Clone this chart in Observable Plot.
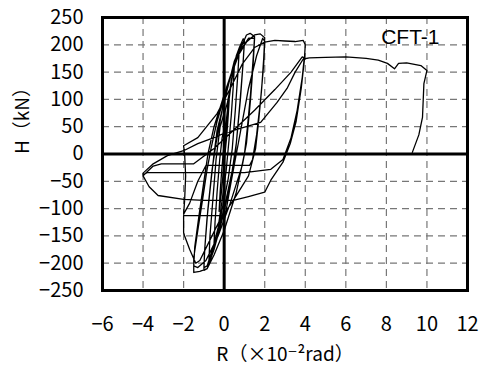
<!DOCTYPE html>
<html>
<head>
<meta charset="utf-8">
<script src="https://cdn.jsdelivr.net/npm/d3@7"></script>
<script src="https://cdn.jsdelivr.net/npm/@observablehq/plot@0.6"></script>
<style>
  html, body { margin: 0; padding: 0; background: #fff; }
  #chart svg { display: block; }
</style>
</head>
<body>
<div id="chart"></div>
<script>
// Tick values
const xTicks = [-6, -4, -2, 0, 2, 4, 6, 8, 10, 12];
const yTicks = [-250, -200, -150, -100, -50, 0, 50, 100, 150, 200, 250];
const xGrid = [-4, -2, 2, 4, 6, 8, 10];
const yGrid = [-200, -150, -100, -50, 50, 100, 150, 200];

// Hysteresis path: [R (x10^-2 rad), H (kN)]
const cycle025 = [[0,0],[0.08,35],[0.16,70],[0.25,100],[0.2,70],[0.12,30],[0.04,0],[-0.06,-40],[-0.15,-75],[-0.25,-105],[-0.2,-70],[-0.12,-30],[-0.05,0],[0.05,40]];
const cycle05 = [[0.2,95],[0.35,135],[0.5,160],[0.45,125],[0.35,70],[0.2,10],[0.1,-30],[-0.1,-85],[-0.3,-135],[-0.5,-165],[-0.45,-125],[-0.35,-70],[-0.22,-10],[-0.1,30]];
const cycle075 = [[0.1,60],[0.35,130],[0.6,180],[0.75,195],[0.68,150],[0.55,80],[0.4,10],[0.2,-45],[-0.2,-120],[-0.55,-175],[-0.75,-195],[-0.7,-150],[-0.55,-80],[-0.4,-10],[-0.2,50]];
const cycle10 = [[0.15,92],[0.5,160],[0.75,195],[0.94,211],[1.0,205],[0.92,160],[0.8,100],[0.65,40],[0.55,0],[0.3,-55],[-0.1,-120],[-0.5,-175],[-0.84,-210],[-1.0,-213],[-0.97,-180],[-0.85,-120],[-0.65,-50],[-0.5,0],[-0.35,43]];
const cycle10b = [[0.1,110],[0.5,170],[0.85,200],[1.0,208],[0.93,165],[0.78,95],[0.6,20],[0.4,-30],[0,-100],[-0.5,-165],[-0.84,-205],[-1.0,-208],[-0.95,-170],[-0.8,-100],[-0.6,-30],[-0.4,20]];
const cycle15 = [[0,100],[0.5,165],[0.95,205],[1.1,218],[1.28,221],[1.5,215],[1.42,170],[1.3,110],[1.15,50],[1.0,0],[0.6,-70],[0,-140],[-0.5,-185],[-0.84,-210],[-1.2,-215],[-1.5,-217],[-1.5,-190],[-1.3,-140],[-1.05,-80],[-0.85,-30],[-0.65,10],[-0.35,60]];
const cycle15b = [[0.3,140],[0.8,190],[1.2,212],[1.5,212],[1.43,165],[1.3,100],[1.1,20],[0.9,-20],[0.3,-90],[-0.3,-150],[-0.9,-195],[-1.3,-208],[-1.5,-205],[-1.45,-170],[-1.25,-115],[-1.0,-50],[-0.8,0],[-0.5,50]];
const cycle20 = [[0.1,120],[0.6,175],[1.1,205],[1.5,218],[1.78,220],[2.0,213],[1.95,175],[1.85,120],[1.7,60],[1.55,10],[1.2,-40],[0.45,-85],[-0.2,-120],[-0.8,-165],[-1.2,-195],[-1.4,-200],[-1.7,-175],[-1.95,-150],[-2.0,-144],[-2.0,-113],[0.05,-113],[0.3,-60],[0.6,0],[0.9,60],[1.2,120],[1.6,180],[1.9,212],[2.0,206],[1.95,165],[1.8,100],[1.6,35],[1.4,-10],[1.25,-21],[-0.9,-21],[-1.3,-50],[-1.7,-90],[-2.0,-110],[-1.95,-85],[-1.9,-40],[-1.95,0],[-2.0,15]];
const cycle40 = [[-1.3,30],[-0.35,74],[0.3,120],[0.9,165],[1.5,195],[2.0,205],[2.5,208],[3.0,207],[3.5,206],[3.9,208],[4.0,200],[3.95,170],[3.8,120],[3.55,60],[3.26,19],[2.9,-15],[2.3,-48],[2.0,-70],[1.2,-78],[0.45,-85],[-1.0,-85],[-2.0,-83],[-3.26,-76],[-3.7,-60],[-4.0,-40]];
const cycle40b = [[-3.5,-22],[-3.1,-18],[-1.5,-18],[-0.5,10],[0.5,45],[1.5,80],[2.5,118],[3.3,150],[3.85,178],[3.95,176],[3.85,140],[3.6,80],[3.3,30],[2.9,-10],[2.3,-28],[1.0,-34],[-3.8,-34],[-4.0,-38]];
const cycleFinal = [[-4,-35],[-3.5,-18],[-2.8,-3],[-2.0,6],[-1.3,19],[-0.5,30],[0,38],[0.8,47],[1.8,58],[2.6,94],[3.1,120],[3.5,150],[3.9,174],[4.2,176],[5.0,177],[6.0,178],[7.0,175],[7.6,172],[8.05,166],[8.4,156],[8.6,166],[9.0,167],[9.7,162],[10.0,153],[9.85,129],[9.78,67],[9.6,35],[9.28,3]];

const cycles = [cycle025, cycle05, cycle075, cycle10, cycle10b, cycle15, cycle15b, cycle20, cycle40, cycle40b, cycleFinal];
const path = cycles.flat().map(([R, H]) => ({R, H}));

const font = "'Noto Sans CJK JP', 'DejaVu Sans', sans-serif";

const chart = Plot.plot({
  width: 489,
  height: 369,
  marginLeft: 102,
  marginRight: 22,
  marginTop: 17,
  marginBottom: 79,
  style: {fontFamily: font, background: "white", color: "black"},
  x: {domain: [-6, 12]},
  y: {domain: [-250, 250]},
  marks: [
    Plot.gridX(xGrid, {stroke: "#777", strokeOpacity: 1, strokeWidth: 1.2, strokeDasharray: "7,5"}),
    Plot.gridY(yGrid, {stroke: "#777", strokeOpacity: 1, strokeWidth: 1.2, strokeDasharray: "7,5"}),
    Plot.axisX(xTicks, {tickSize: 0, tickPadding: 26, fontSize: 20, label: null, tickFormat: d3.format("")}),
    Plot.axisY(yTicks, {tickSize: 0, tickPadding: 19, fontSize: 20, label: null, tickFormat: d3.format("")}),
    Plot.ruleX([0], {stroke: "black", strokeWidth: 3}),
    Plot.ruleY([0], {stroke: "black", strokeWidth: 3}),
    Plot.line(path, {x: "R", y: "H", stroke: "black", strokeWidth: 1.3}),
    Plot.text(["CFT-1"], {frameAnchor: "top-right", dx: -28, dy: 12, fontSize: 21, fontFamily: "'Liberation Sans', Arial, sans-serif", textAnchor: "end"}),
    Plot.frame({stroke: "black", strokeWidth: 3}),
    Plot.text(["R\uFF08\u00D710\u207B\u00B2rad\uFF09"], {frameAnchor: "bottom", dy: 70, fontSize: 19}),
    Plot.text(["H\uFF08kN\uFF09"], {frameAnchor: "left", rotate: -90, dx: -80, fontSize: 19})
  ]
});
document.getElementById("chart").appendChild(chart);
</script>
</body>
</html>
